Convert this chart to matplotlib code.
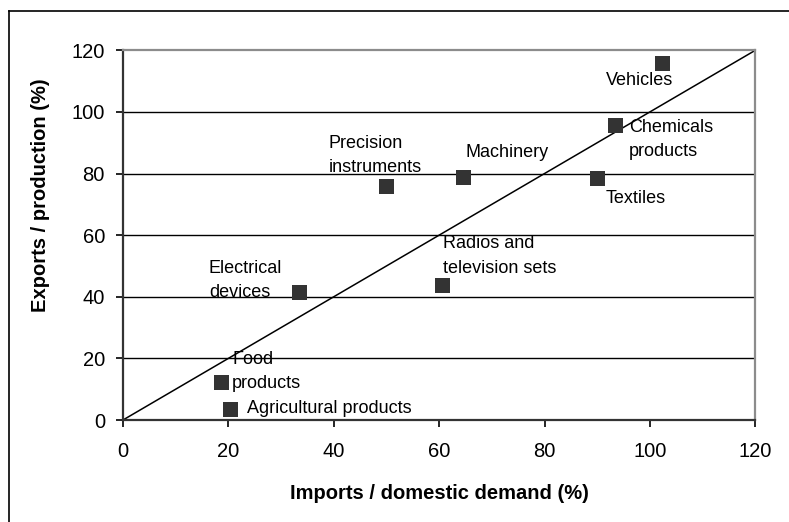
import matplotlib
matplotlib.use("Agg")
import matplotlib.pyplot as plt
from matplotlib.lines import Line2D

plt.rcParams['font.family'] = ['Liberation Sans', 'DejaVu Sans']

categories = ["Vehicles", "Chemicals\nproducts", "Machinery", "Textiles",
              "Precision\ninstruments", "Radios and\ntelevision sets",
              "Electrical\ndevices", "Food\nproducts", "Agricultural products"]
imports_share = [102.2, 93.4, 64.6, 90.0, 50.0, 60.5, 33.4, 18.6, 20.3]
exports_share = [115.9, 95.8, 79.0, 78.5, 75.9, 43.8, 41.5, 12.3, 3.5]
x_ticks = [0, 20, 40, 60, 80, 100, 120]
y_ticks = [0, 20, 40, 60, 80, 100, 120]

# label offsets in pixels (text left edge, vertical centre) relative to marker
label_offsets = [(-56, -17.5), (14, -15), (2, 24), (8.5, -20), (-58, 31),
                 (1, 29), (-90, 12), (11, 10.5), (16.7, 0.7)]

fig = plt.figure(figsize=(7.89, 5.22), dpi=100)
ax = fig.add_axes([123/789, 1-420/522, (755.3-123)/789, (420-50.3)/522])

ax.set_xlim(0, 120)
ax.set_ylim(0, 120)
ax.set_xticks(x_ticks)
ax.set_yticks(y_ticks)

for yv in y_ticks[1:-1]:
    ax.axhline(yv, color='black', lw=1.0, zorder=1)

ax.plot([0, 120], [0, 120], color='black', lw=1.1, zorder=2)

ax.plot(imports_share, exports_share, linestyle='none', marker='s',
        markersize=10.8, color='#333333', markeredgewidth=0, zorder=3)

for name, xv, yv, off in zip(categories, imports_share, exports_share, label_offsets):
    ax.annotate(name, xy=(xv, yv), xytext=off, textcoords='offset pixels',
                ha='left', va='center', fontsize=13, linespacing=1.55,
                color='black', zorder=4)

for s in ['top', 'right']:
    ax.spines[s].set_color('#8c8c8c')
    ax.spines[s].set_linewidth(1.6)
for s in ['left', 'bottom']:
    ax.spines[s].set_color('#333333')
    ax.spines[s].set_linewidth(1.6)

ax.tick_params(axis='both', direction='out', length=5, width=1.2,
               labelsize=14.5, colors='black')
ax.tick_params(axis='y', pad=8)
ax.tick_params(axis='x', pad=11)

ax.set_xlabel("Imports / domestic demand (%)", fontsize=14.5, fontweight='bold')
ax.xaxis.set_label_coords(0.5, -0.172)
ax.set_ylabel("Exports / production (%)", fontsize=14.5, fontweight='bold')
ax.yaxis.set_label_coords(-0.116, 0.609)

# outer frame (partially visible)
fig.add_artist(Line2D([9/789, 1.0], [1-11/522, 1-11/522], transform=fig.transFigure,
                      color='black', lw=1.2))
fig.add_artist(Line2D([9/789, 9/789], [0.0, 1-11/522], transform=fig.transFigure,
                      color='black', lw=1.2))

fig.savefig("out.png", dpi=100)
